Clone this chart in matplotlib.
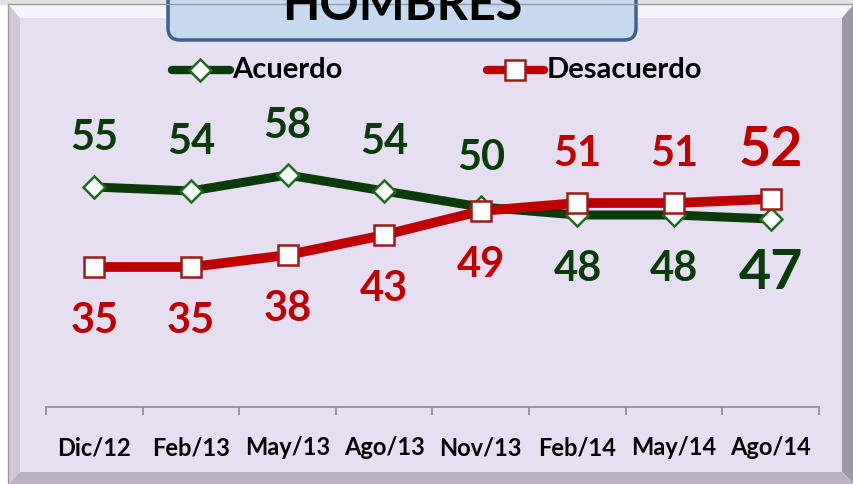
import matplotlib
matplotlib.use("Agg")
import matplotlib.pyplot as plt
from matplotlib.patches import Polygon, Rectangle, FancyBboxPatch

meses = ["Dic/12", "Feb/13", "May/13", "Ago/13", "Nov/13", "Feb/14", "May/14", "Ago/14"]
acuerdo = [55, 54, 58, 54, 50, 48, 48, 47]
desacuerdo = [35, 35, 38, 43, 49, 51, 51, 52]

verde = "#0B3B0B"
rojo = "#C00000"
lavanda = "#E6DFF1"
fuente = ["Lato", "DejaVu Sans"]

W, H = 854, 484
fig = plt.figure(figsize=(W / 100, H / 100), dpi=100, facecolor="white")

# background frame, drawn in pixel coords
bg = fig.add_axes([0, 0, 1, 1], zorder=0)
bg.set_xlim(0, W)
bg.set_ylim(H, 0)
bg.axis("off")
bg.add_patch(Rectangle((0, 0), W, 4, color="#E2E2E2"))
bg.add_patch(Polygon([(8, 4), (W, 4), (842, 18), (20, 18)], closed=True, fc="#F6F3FB", ec="none"))
bg.add_patch(Polygon([(8, 4), (20, 18), (20, 472), (8, H)], closed=True, fc="#CFC7DC", ec="none"))
bg.add_patch(Polygon([(W, 4), (842, 18), (842, 472), (W, H)], closed=True, fc="#9D97A8", ec="none"))
bg.add_patch(Polygon([(8, H), (20, 472), (842, 472), (W, H)], closed=True, fc="#B9B3C4", ec="none"))
bg.add_patch(Rectangle((20, 18), 822, 454, fc=lavanda, ec="none"))
bg.plot([8, W], [4, 4], color="#9A9A9A", lw=1)
bg.plot([8, 8], [4, H], color="#9A9A9A", lw=1)

# title box
bg.add_patch(FancyBboxPatch((168, -40), 468, 80, boxstyle="round,pad=0,rounding_size=12",
                            fc="#C6D9F1", ec="#3B618E", lw=2.5))
bg.text(402, 20, "HOMBRES", ha="center", va="baseline", fontsize=35,
        fontweight="bold", family=fuente, color="black")

# legend
bg.plot([172, 230], [70, 70], color=verde, lw=6, solid_capstyle="round")
bg.plot([200], [70], marker="D", ms=11, mfc="white", mec="#1E6B1E", mew=1.8)
bg.text(232, 70, "Acuerdo", ha="left", va="center", fontsize=21, fontweight="bold",
        family=fuente, color="black")
bg.plot([487, 544], [70, 70], color=rojo, lw=6, solid_capstyle="round")
bg.plot([515], [70], marker="s", ms=15, mfc="white", mec="#A01818", mew=1.8)
bg.text(547, 70, "Desacuerdo", ha="left", va="center", fontsize=21, fontweight="bold",
        family=fuente, color="black")

# chart area
x0, x1, ybot, ytop = 46, 819, 407, 100
ax = fig.add_axes([x0 / W, (H - ybot) / H, (x1 - x0) / W, (ybot - ytop) / H], zorder=1)
ax.patch.set_alpha(0)
pos = list(range(len(meses)))
ax.plot(pos, acuerdo, color=verde, lw=6.5, marker="D", ms=11, mfc="white",
        mec="#1E6B1E", mew=1.8, zorder=3)
ax.plot(pos, desacuerdo, color=rojo, lw=7, marker="s", ms=15, mfc="white",
        mec="#A01818", mew=1.8, zorder=4)
ax.set_xlim(-0.5, len(meses) - 0.5)
ax.set_ylim(0, (ybot - ytop) / 4)

arriba, abajo = 35, -39
for i in pos:
    big = i == len(meses) - 1
    fs = 40 if big else 30
    a_up = acuerdo[i] >= desacuerdo[i]
    ax.annotate(str(acuerdo[i]), (i, acuerdo[i]), xytext=(0, arriba if a_up else abajo),
                textcoords="offset points", ha="center", va="center", fontsize=fs,
                fontweight="bold", family=fuente, color=verde)
    ax.annotate(str(desacuerdo[i]), (i, desacuerdo[i]), xytext=(0, abajo if a_up else arriba),
                textcoords="offset points", ha="center", va="center", fontsize=fs,
                fontweight="bold", family=fuente, color=rojo)

for s in ["left", "right", "top"]:
    ax.spines[s].set_visible(False)
ax.spines["bottom"].set_color("#8C8C8C")
ax.spines["bottom"].set_linewidth(1.2)
ax.set_yticks([])
ax.set_xticks(pos)
ax.set_xticklabels(meses, fontsize=17, fontweight="bold", family=fuente)
ax.tick_params(axis="x", which="major", length=0, pad=21)
ax.set_xticks([p - 0.5 for p in pos] + [len(meses) - 0.5], minor=True)
ax.tick_params(axis="x", which="minor", length=6, width=1.2, color="#8C8C8C", direction="out")

fig.savefig("out.png", dpi=100, facecolor=fig.get_facecolor())
